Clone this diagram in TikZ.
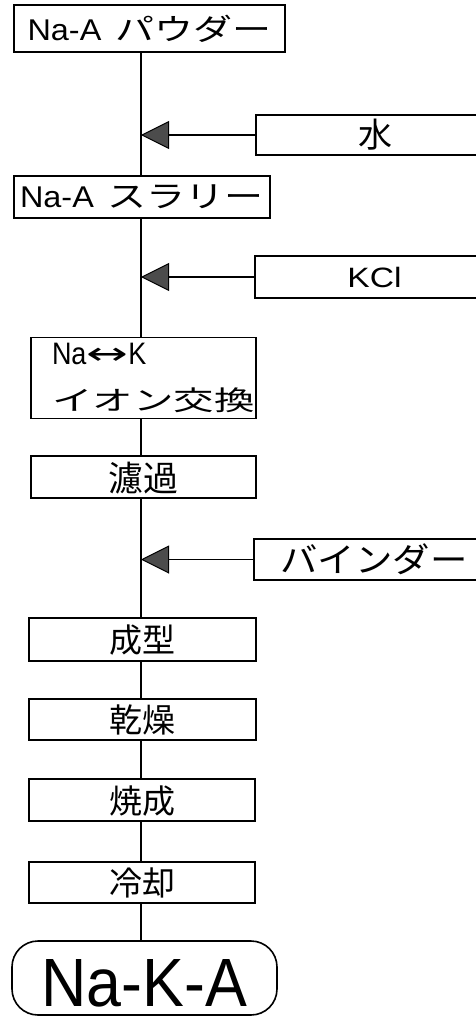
\documentclass[tikz,border=0pt]{standalone}
\usepackage{fontspec}
\usepackage{graphicx}
\setmainfont{Liberation Sans}
\newfontfamily\jp{Noto Sans CJK JP}
\newfontfamily\dv{DejaVu Sans}
\usetikzlibrary{arrows.meta}
\newcommand{\fsz}[1]{\fontsize{#1}{#1}\selectfont}
\tikzset{
  box/.style={draw, rectangle, line width=1.6pt, inner sep=0pt},
  link/.style={line width=1.6pt},
  feed/.style={line width=1.8pt, -{Triangle[length=28pt,width=28pt,fill=black!70,line width=1pt]}},
}
\begin{document}
\begin{tikzpicture}[x=1pt,y=-1pt]
\useasboundingbox (0,0) rectangle (476,1019);
\clip (0,0) rectangle (476,1019);
\coordinate (spine) at (141,0);
% process boxes
\node[box, minimum width=271pt, minimum height=47pt] (p1) at (149.5,28.5)
  {\fsz{30}\scalebox{1.08}[1]{Na-A}\hspace{14pt}\scalebox{1.3}[1]{\jp パウダー}};
\node[box, minimum width=256pt, minimum height=42pt] (p2) at (142,197)
  {\fsz{30}\scalebox{1.08}[1]{Na-A}\hspace{14pt}\scalebox{1.3}[1]{\jp スラリー}};
\node[box, minimum width=225pt, minimum height=81pt, text width=215pt, inner xsep=5pt, align=left,
      font=\fontsize{27}{46}\selectfont] (p3) at (143.5,378)
  {\hspace*{16pt}\scalebox{1}[1.15]{Na\scalebox{1.85}[1]{\dv ↔}K}\\\hspace*{16pt}\scalebox{1.5}[1]{\jp イオン交換}};
\node[box, minimum width=225pt, minimum height=42pt, text height=28pt, text depth=0pt] (p4) at (143.5,477)
  {\fsz{35}\jp 濾過};
\node[box, minimum width=227pt, minimum height=43pt, text height=26pt, text depth=0pt] (p5) at (142.5,639.5)
  {\fsz{33}\jp 成型};
\node[box, minimum width=227pt, minimum height=41pt, text height=26pt, text depth=0pt] (p6) at (142.5,719.5)
  {\fsz{33}\jp 乾燥};
\node[box, minimum width=226pt, minimum height=42pt, text height=26pt, text depth=0pt] (p7) at (142,800)
  {\fsz{33}\jp 焼成};
\node[box, minimum width=226pt, minimum height=41pt, text height=26pt, text depth=0pt] (p8) at (142,882.5)
  {\fsz{33}\jp 冷却};
\node[box, rounded corners=26pt, minimum width=265pt, minimum height=74pt, text height=56pt, text depth=0pt] (p9) at (144.5,978)
  {\fsz{56}\scalebox{1.12}[1.22]{Na-K-A}};
% feed boxes
\node[box, minimum width=238pt, minimum height=40pt] (f1) at (375,135)
  {\fsz{34}\jp 水};
\node[box, minimum width=239pt, minimum height=42pt] (f2) at (374.5,277)
  {\fsz{28}\scalebox{1.2}[1]{KCl}};
\node[box, minimum width=240pt, minimum height=41pt] (f3) at (374,559.5)
  {\fsz{34}\scalebox{1.1}[1]{\jp バインダー}};
% main flow line
\draw[link] (p1.south -| spine) -- (p2.north -| spine);
\draw[link] (p2.south -| spine) -- (p3.north -| spine);
\draw[link] (p3.south -| spine) -- (p4.north -| spine);
\draw[link] (p4.south -| spine) -- (p5.north -| spine);
\draw[link] (p5.south -| spine) -- (p6.north -| spine);
\draw[link] (p6.south -| spine) -- (p7.north -| spine);
\draw[link] (p7.south -| spine) -- (p8.north -| spine);
\draw[link] (p8.south -| spine) -- (p9.north -| spine);
% feeds
\draw[feed] (f1.west) -- (f1.west -| spine);
\draw[feed] (f2.west) -- (f2.west -| spine);
\draw[feed] (f3.west) -- (f3.west -| spine);
\end{tikzpicture}
\end{document}
